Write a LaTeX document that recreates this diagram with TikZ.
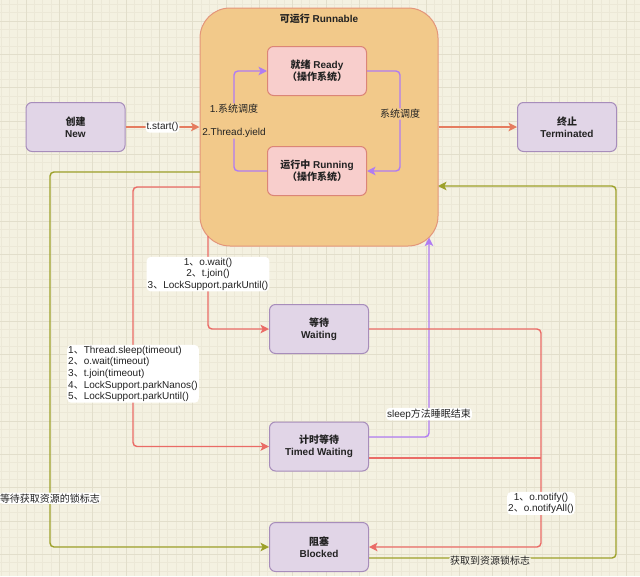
\documentclass[tikz,border=0pt]{standalone}
\usepackage{fontspec}
\setmainfont{Liberation Sans}
\newfontfamily\cjk{Noto Sans CJK SC}
\usetikzlibrary{arrows.meta}
\newcommand{\dn}{{\cjk 、}}
\definecolor{bgc}{HTML}{F4F1E1}
\definecolor{minorc}{HTML}{ECE8D7}
\definecolor{majorc}{HTML}{E2DECB}
\definecolor{runfill}{HTML}{F2C98A}
\definecolor{runedge}{HTML}{E3957A}
\definecolor{pinkfill}{HTML}{F8CECC}
\definecolor{pinkedge}{HTML}{DB8577}
\definecolor{purpfill}{HTML}{E1D5E7}
\definecolor{purpedge}{HTML}{A78DBB}
\definecolor{startc}{HTML}{E57C5F}
\definecolor{redc}{HTML}{EA6B66}
\definecolor{purpc}{HTML}{B07CF2}
\definecolor{olivec}{HTML}{9DA12A}
\definecolor{textc}{HTML}{222222}
\tikzset{
  state/.style={draw=purpedge, fill=purpfill, rounded corners=6pt, line width=1pt,
    minimum width=99pt, minimum height=49pt, align=center, text=textc,
    font=\bfseries\fontsize{10}{12}\selectfont},
  osbox/.style={state, draw=pinkedge, fill=pinkfill},
  lbl/.style={fill=white, inner sep=1pt, text=textc, align=center,
    font=\fontsize{10}{11.6}\selectfont},
  conn/.style={line width=1.4pt, rounded corners=4pt,
    -{Stealth[length=8.5pt,width=8.5pt,inset=2pt]}},
  plainline/.style={line width=1.4pt, rounded corners=4pt},
}
\begin{document}
\begin{tikzpicture}[x=1pt,y=-1pt]
\useasboundingbox (0,0) rectangle (640,576);
\fill[bgc] (0,0) rectangle (640,576);
\begin{scope}
\clip (0,0) rectangle (640,576);
\foreach \i in {0,...,77} \draw[minorc, line width=0.4pt] ({0.8+8.333*\i},0) -- ({0.8+8.333*\i},576);
\foreach \j in {0,...,69} \draw[minorc, line width=0.4pt] (0,{4.33+8.333*\j}) -- (640,{4.33+8.333*\j});
\foreach \i in {0,...,20} \draw[majorc, line width=0.6pt] ({-7.5+33.333*\i},0) -- ({-7.5+33.333*\i},576);
\foreach \j in {0,...,18} \draw[majorc, line width=0.6pt] (0,{-12.33+33.333*\j}) -- (640,{-12.33+33.333*\j});
\end{scope}

% Runnable container
\node[draw=runedge, fill=runfill, rounded corners=30pt, line width=1pt,
  minimum width=238pt, minimum height=238pt] (run) at (319,127) {};
\node[font=\bfseries\fontsize{10}{12}\selectfont, text=textc] (runtitle) at (319,19) {{\cjk 可运行} Runnable};

% states
\node[osbox] (ready) at (317,71) {{\cjk 就绪} Ready\\{\cjk （操作系统）}};
\node[osbox] (running) at (317,171) {{\cjk 运行中} Running\\{\cjk （操作系统）}};
\node[state] (new) at (75.5,127) {{\cjk 创建}\\New};
\node[state] (term) at (567,127) {{\cjk 终止}\\Terminated};
\node[state] (wait) at (319,329) {{\cjk 等待}\\Waiting};
\node[state] (timed) at (319,446.5) {{\cjk 计时等待}\\Timed Waiting};
\node[state] (blocked) at (319,547) {{\cjk 阻塞}\\Blocked};

% anchor coordinates
\coordinate (w0) at (208,236);
\coordinate (t0) at (200,187);
\coordinate (g0) at (200,172);
\coordinate (g1) at (369,558);
\coordinate (g2) at (438,186);
\coordinate (s0) at (369,437);
\coordinate (s1) at (429,237.5);
\coordinate (j0) at (369,458);

% start / terminate
\draw[conn, startc] (new.east) -- node[lbl]{t.start()} (run.west);
\draw[conn, startc] (run.east) -- (term.west);

% inner scheduling
\draw[conn, purpc] (running.west) -- (234,171) -- node[pos=0.5, fill=runfill, inner sep=1pt, text=textc, align=center, font=\fontsize{10}{11.6}\selectfont]{1.{\cjk 系统调度}\\[11pt]2.Thread.yield} (234,71) -- (ready.west);
\draw[conn, purpc] (ready.east) -- (400,71) -- node[pos=0.43, fill=runfill, inner sep=1pt, text=textc, font=\fontsize{10}{11.6}\selectfont]{\cjk 系统调度} (400,171) -- (running.east);

% to waiting
\draw[conn, redc] (w0) -- node[lbl, pos=0.41]{1\dn o.wait()\\2\dn t.join()\\3\dn LockSupport.parkUntil()} (208,329) -- (wait.west);

% to timed waiting
\draw[conn, redc] (t0) -- (133,187) -- node[lbl, pos=0.72, align=left]{1\dn Thread.sleep(timeout)\\2\dn o.wait(timeout)\\3\dn t.join(timeout)\\4\dn LockSupport.parkNanos()\\5\dn LockSupport.parkUntil()} (133,446.5) -- (timed.west);

% to blocked (olive)
\draw[conn, olivec] (g0) -- (50,172) -- node[lbl, pos=0.87]{\cjk 等待获取资源的锁标志} (50,547) -- (blocked.west);

% blocked back to runnable
\draw[conn, olivec] (g1) -- node[pos=0.49, yshift=-3pt, fill=bgc, inner sep=1pt, text=textc, font=\fontsize{10}{11.6}\selectfont]{\cjk 获取到资源锁标志} (616,558) -- (616,186) -- (g2);

% sleep ended
\draw[conn, purpc] (s0) -- (429,437) -- node[lbl, pos=0.115]{sleep{\cjk 方法睡眠结束}} (s1);

% notify
\draw[plainline, redc] (j0) -- (541,458);
\draw[conn, redc] (wait.east) -- (541,329) -- node[lbl, pos=0.8]{1\dn o.notify()\\2\dn o.notifyAll()} (541,547) -- (blocked.east);
\end{tikzpicture}
\end{document}
